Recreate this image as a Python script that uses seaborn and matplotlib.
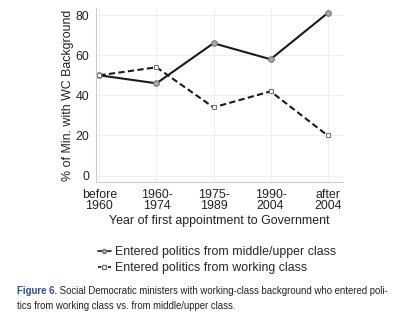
import matplotlib
matplotlib.use("Agg")
import matplotlib.pyplot as plt
import seaborn as sns
import pandas as pd
from matplotlib.lines import Line2D

categories = ["before\n1960", "1960-\n1974", "1975-\n1989", "1990-\n2004", "after\n2004"]
middle_upper = [50, 46, 66, 58, 81]
working = [50, 54, 34, 42, 20]
yticks = [0, 20, 40, 60, 80]
label_mu = "Entered politics from middle/upper class"
label_wc = "Entered politics from working class"

sns.set_theme(style="white")
plt.rcParams['font.family'] = ['Liberation Sans', 'DejaVu Sans']

fig = plt.figure(figsize=(4, 3.25), dpi=100)
ax = fig.add_axes([0.24, 0.44, 0.6175, 0.535])

df = pd.DataFrame({"x": list(range(len(categories))) * 2,
                   "y": middle_upper + working,
                   "series": [label_mu] * 5 + [label_wc] * 5})

sns.lineplot(data=df[df.series == label_mu], x="x", y="y", ax=ax, color="#1a1a1a",
             lw=1.5, marker="o", markersize=4, markerfacecolor="#aaaaaa",
             markeredgecolor="#777777", markeredgewidth=0.8)
sns.lineplot(data=df[df.series == label_wc], x="x", y="y", ax=ax, color="#1a1a1a",
             lw=1.5, linestyle=(0, (3, 1.6)), marker="s", markersize=3.5,
             markerfacecolor="white", markeredgecolor="#777777", markeredgewidth=0.8)

fs = 8.9
ax.set_xlim(-0.06, 4.27)
ax.set_ylim(-3.2, 83.5)
ax.set_xticks(range(len(categories)))
ax.set_xticklabels(categories, fontsize=fs, color="#222222", linespacing=0.95)
ax.set_yticks(yticks)
ax.set_yticklabels([str(v) for v in yticks], fontsize=fs, color="#222222")
ax.set_xlabel("Year of first appointment to Government", fontsize=fs, color="#222222", labelpad=2)
ax.set_ylabel("% of Min. with WC Background", fontsize=fs, color="#222222")
ax.yaxis.set_label_coords(-0.088, 0.5)

ax.grid(True, color="#eeeeee", lw=0.7)
for s in ["top", "right"]:
    ax.spines[s].set_visible(False)
for s in ["left", "bottom"]:
    ax.spines[s].set_color("#cccccc")
    ax.spines[s].set_linewidth(0.8)
ax.tick_params(axis="both", length=3, width=0.6, color="#cccccc", pad=2)

handles = [Line2D([], [], color="#1a1a1a", lw=1.2, marker="o", markersize=3,
                  markerfacecolor="#aaaaaa", markeredgecolor="#777777"),
           Line2D([], [], color="#1a1a1a", lw=1.2, linestyle=(0, (2, 1)), marker="s", markersize=3,
                  markerfacecolor="white", markeredgecolor="#777777")]
fig.legend(handles, [label_mu, label_wc], loc="center left", bbox_to_anchor=(0.23, 0.199),
           frameon=False, fontsize=fs, handlelength=1.0, handletextpad=0.4,
           labelspacing=0.35, borderpad=0)

cap_font = ['Liberation Sans Narrow', 'Liberation Sans', 'DejaVu Sans']
cfs = 6.95
t1 = fig.text(0.043, 0.095, "Figure 6.", fontsize=cfs, color="#2b4c9a", fontweight="bold",
              family=cap_font, va="baseline")
ax.annotate(" Social Democratic ministers with working-class background who entered poli-",
            xy=(1, 0), xycoords=t1, va="bottom", ha="left",
            fontsize=cfs, color="#222222", family=cap_font, annotation_clip=False)
fig.text(0.043, 0.048, "tics from working class vs. from middle/upper class.",
         fontsize=cfs, color="#222222", family=cap_font, va="baseline")

fig.savefig("out.png", dpi=100, facecolor="white")
